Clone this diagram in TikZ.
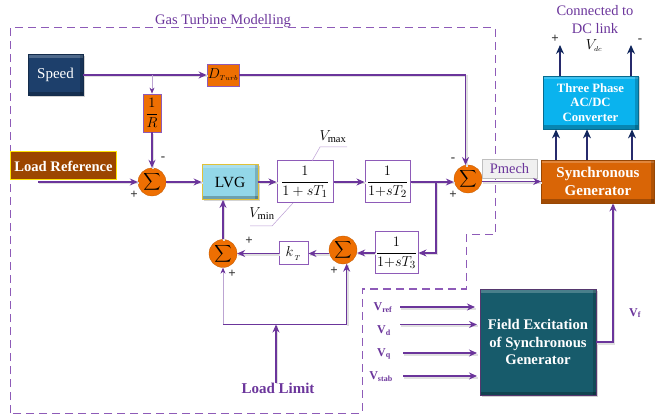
\documentclass[tikz,border=0pt]{standalone}
\usepackage{fontspec}
\setmainfont{Liberation Serif}
\usepackage{amsmath}
\usetikzlibrary{arrows.meta, shadows}

\definecolor{linepurple}{HTML}{6B359B}
\definecolor{framepurple}{HTML}{8E5BB8}
\definecolor{sumorange}{HTML}{EE6F02}
\definecolor{speedblue}{HTML}{1D3F6B}
\definecolor{loadbrown}{HTML}{9C4600}
\definecolor{lvgcyan}{HTML}{93D7E8}
\definecolor{convblue}{HTML}{0AB3EE}
\definecolor{genorange}{HTML}{D96506}
\definecolor{exciteteal}{HTML}{175B6B}
\definecolor{tipnavy}{HTML}{10265C}

\tikzset{
    bevelbox/.style={draw=#1!70!black, fill=#1, line width=0.8pt, drop shadow={shadow xshift=1.5pt, shadow yshift=-1.5pt, opacity=0.35},
        path picture={
            \fill[white, opacity=0.22] (path picture bounding box.north west) rectangle ([yshift=-3.5pt]path picture bounding box.north east);
            \fill[black, opacity=0.25] (path picture bounding box.south west) rectangle ([yshift=3.5pt]path picture bounding box.south east);
            \fill[black, opacity=0.18] (path picture bounding box.north east) rectangle ([xshift=-3.5pt]path picture bounding box.south east);
        }},
    tfbox/.style={draw=framepurple, fill=white, line width=1pt, inner sep=0pt, font=\fontsize{15}{16}\selectfont},
    orangebox/.style={draw=framepurple, fill=sumorange, line width=0.8pt, inner sep=0pt, font=\fontsize{15}{16}\selectfont},
    sumnode/.style={circle, fill=sumorange, draw=sumorange!80!black, line width=0.3pt, minimum size=28pt, inner sep=0pt, font=\fontsize{12}{12}\selectfont},
    flow/.style={draw=linepurple, line width=1.2pt, -{Stealth[length=8pt, width=7pt]},
        preaction={draw=black!12, line width=2pt, -, transform canvas={shift={(1pt,-1.5pt)}}}},
    thinflow/.style={draw=linepurple!45, line width=0.6pt, -{Stealth[length=6pt, width=5pt, color=linepurple, fill=linepurple]}},
    navyflow/.style={draw=tipnavy!75!linepurple, line width=1.1pt, -{Stealth[length=9pt, width=8pt, color=tipnavy, fill=tipnavy]}},
    limitline/.style={draw=framepurple!60, line width=0.5pt},
    signlabel/.style={font=\fontsize{13}{13}\selectfont\bfseries, inner sep=0pt, text=black!80},
    limitlabel/.style={inner sep=0pt, font=\fontsize{15}{16}\selectfont},
    purplelabel/.style={text=linepurple, inner sep=0pt},
    inputlabel/.style={text=linepurple, inner sep=0pt, font=\fontsize{12}{13}\selectfont\bfseries},
    whitebold/.style={text=white, font=\fontsize{#1}{#1}\selectfont\bfseries, align=center},
}

\begin{document}
\begin{tikzpicture}[>=Stealth, x=1pt, y=-1pt]
    \useasboundingbox (0,0) rectangle (655,419);

    % Modelling frame
    \draw[framepurple, line width=1pt, dash pattern=on 8pt off 5pt] (10,413) -- (10,28) -- (495,28) -- (495,235) -- (466,235) -- (466,289) -- (362,289) -- (362,413) -- cycle;
    \node[purplelabel, font=\fontsize{14.5}{15}\selectfont] (title) at (223,21) {Gas Turbine Modelling};

    % Upper blocks
    \node[bevelbox=speedblue, minimum width=55pt, minimum height=41pt, text=white, font=\fontsize{15}{16}\selectfont] (speed) at (55.5,75) {Speed};
    \node[orangebox, minimum width=32pt, minimum height=22pt] (dturb) at (223,75) {$D_{\scriptscriptstyle Turb}$};
    \node[orangebox, minimum width=18pt, minimum height=38pt] (droop) at (152,113) {$\dfrac{1}{R}$};
    \node[draw=yellow!85!orange, fill=loadbrown, line width=1pt, minimum width=106pt, minimum height=28pt, inner sep=0pt, whitebold=14.6] (loadref) at (63.5,166) {Load Reference};
    \coordinate (loadin) at (38,182);

    % Forward path
    \node[sumnode] (sumref) at (152,182) {$\displaystyle\sum$};
    \node[bevelbox=lvgcyan, draw=yellow!50!brown, minimum width=56pt, minimum height=35pt, font=\fontsize{15.5}{16}\selectfont] (lvg) at (230,182) {LVG};
    \node[tfbox, minimum width=56pt, minimum height=42pt] (tfone) at (305,182) {$\dfrac{1}{1+sT_1}$};
    \node[tfbox, minimum width=45pt, minimum height=42pt] (tftwo) at (387.5,182) {$\dfrac{1}{1{+}sT_2}$};
    \node[sumnode] (sumpower) at (468,179) {$\displaystyle\sum$};

    % Feedback path
    \node[tfbox, minimum width=43pt, minimum height=42pt] (tfthree) at (396.5,253) {$\dfrac{1}{1{+}sT_3}$};
    \node[sumnode] (sumfb) at (343,250) {$\displaystyle\sum$};
    \node[tfbox, minimum width=29pt, minimum height=23pt] (kt) at (293.5,253.5) {$k_{\,{}_T}$};
    \node[sumnode] (sumlim) at (223,253.5) {$\displaystyle\sum$};
    \node[purplelabel, font=\fontsize{15}{16}\selectfont\bfseries] (loadlimit) at (278,388) {Load Limit};
    \coordinate (limitjoin) at (276,324.5);
    \coordinate (branch) at (436,182);

    % Limits
    \coordinate (vmaxa) at (312,161);
    \coordinate (vmaxb) at (320,147);
    \coordinate (vmaxc) at (347,147);
    \coordinate (vmina) at (293,203);
    \coordinate (vminb) at (272,226);
    \coordinate (vminc) at (250,226);
    \draw[limitline] (vmaxa) -- (vmaxb) -- (vmaxc);
    \draw[limitline] (vmina) -- (vminb) -- (vminc);
    \node[limitlabel] (vmax) at (333,137) {$V_{\text{max}}$};
    \node[limitlabel] (vmin) at (262,214) {$V_{\text{min}}$};

    % Machine side
    \node[bevelbox=convblue, draw=convblue!60!black, minimum width=95pt, minimum height=53pt, whitebold=12.7] (converter) at (590.5,102.5) {Three Phase\\[2pt]AC/DC\\[2pt]Converter};
    \node[bevelbox=genorange, minimum width=113pt, minimum height=43pt, whitebold=15] (generator) at (598,181.5) {Synchronous\\[3pt]Generator};
    \node[bevelbox=exciteteal, draw=framepurple!60!black, minimum width=116pt, minimum height=106pt, whitebold=14.7] (excitation) at (538,342) {Field Excitation\\[3pt]of Synchronous\\[3pt]Generator};
    \node[draw=black!25, fill=black!6, minimum width=55pt, minimum height=19pt, inner sep=0pt, text=linepurple, font=\fontsize{14.5}{15}\selectfont] (pmech) at (509.5,169) {Pmech};

    \node[purplelabel, align=center, font=\fontsize{14.5}{18}\selectfont] (dclink) at (595,20) {Connected to\\DC link};
    \node[limitlabel] (vdc) at (594,46) {$V_{\scriptscriptstyle dc}$};
    \coordinate (dcplus) at (560,45);
    \coordinate (dcminus) at (631,45);
    \node[signlabel] (plusdc) at (555,39) {+};
    \node[signlabel] (minusdc) at (640,41) {-};

    % Excitation inputs
    \node[inputlabel] (vref) at (383,308) {V\textsubscript{ref}};
    \node[inputlabel] (vd) at (384,331) {V\textsubscript{d}};
    \node[inputlabel] (vq) at (384,354) {V\textsubscript{q}};
    \node[inputlabel] (vstab) at (381,377) {V\textsubscript{stab}};
    \node[inputlabel] (vf) at (635,313) {V\textsubscript{f}};
    \coordinate (vrefin) at (400,307);
    \coordinate (vrefout) at (475,307);
    \coordinate (vdin) at (400,324.5);
    \coordinate (vdout) at (477,324.5);
    \coordinate (vqin) at (403,353);
    \coordinate (vqout) at (477,353);
    \coordinate (vstabin) at (403,376);
    \coordinate (vstabout) at (477,376);

    % Signs
    \node[signlabel] (plusref) at (134,195) {+};
    \node[signlabel] (minusref) at (163,159) {-};
    \node[signlabel] (minuspower) at (453,160) {-};
    \node[signlabel] (pluspower) at (453,195) {+};
    \node[signlabel] (pluslimtop) at (249,241) {+};
    \node[signlabel] (pluslimlow) at (232,274) {+};
    \node[signlabel] (plusfblow) at (334,271) {+};

    % Connectors
    \draw[flow] (speed.east) -- (dturb.west);
    \draw[flow] (dturb.east) -| (sumpower.100);
    \draw[thinflow] (droop.north |- speed.east) -- (droop.north);
    \draw[flow] (droop.south) -- (sumref.north);
    \draw[flow] (loadin) -- (sumref.west);
    \draw[flow] (sumref.east) -- (lvg.west);
    \draw[flow] (lvg.east) -- (tfone.west);
    \draw[flow] (tfone.east) -- (tftwo.west);
    \draw[flow] (tftwo.east) -- (tftwo.east -| sumpower.west);
    \draw[flow] (branch) |- (tfthree.east);
    \draw[flow] (tfthree.west) -- (tfthree.west -| sumfb.east);
    \draw[flow] (kt.east -| sumfb.west) -- (kt.east);
    \draw[flow] (kt.west) -- (sumlim.east);
    \draw[flow] (sumlim.north) -- (lvg.south -| sumlim.north);
    \draw[thinflow] (limitjoin -| sumlim.south) -- (sumlim.south);
    \draw[draw=linepurple, line width=1pt] (limitjoin -| sumlim.south) -- (limitjoin -| sumfb.-75);
    \draw[flow] (limitjoin -| sumfb.-75) -- (sumfb.-75);
    \draw[flow] (loadlimit.north -| limitjoin) -- (limitjoin);
    \draw[flow] (sumpower.east |- generator.west) -- (generator.west);
    \draw[flow] (excitation.east) -| (613,0 |- generator.south);
    \draw[navyflow] (converter.north -| dcplus) -- (dcplus);
    \draw[navyflow] (converter.north -| dcminus) -- (dcminus);
    \draw[navyflow] (556,0 |- generator.north) -- (556,0 |- converter.south);
    \draw[navyflow] (587,0 |- generator.north) -- (587,0 |- converter.south);
    \draw[navyflow] (632,0 |- generator.north) -- (632,0 |- converter.south);
    \draw[flow] (vrefin) -- (vrefout);
    \draw[flow] (vdin) -- (vdout);
    \draw[flow] (vqin) -- (vqout);
    \draw[flow] (vstabin) -- (vstabout);
\end{tikzpicture}
\end{document}
